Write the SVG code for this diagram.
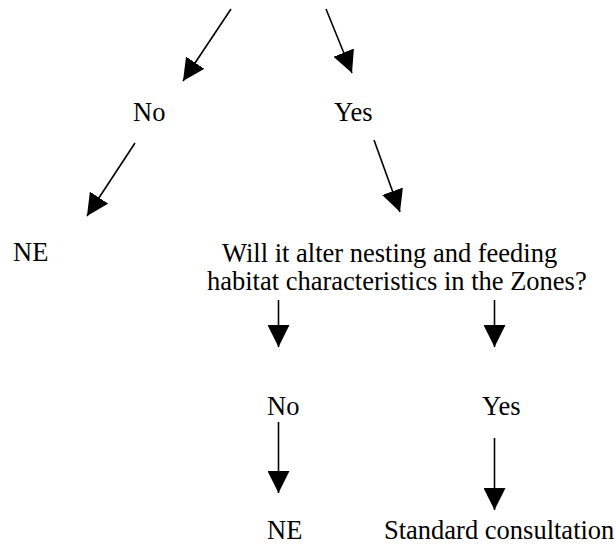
<svg xmlns="http://www.w3.org/2000/svg" width="616" height="544" viewBox="0 0 616 544">
<defs>
<marker id="ah" markerUnits="userSpaceOnUse" markerWidth="22" markerHeight="22" viewBox="0 0 21 21" refX="21" refY="10.5" orient="auto">
<path d="M0,0 L21,10.5 L0,21 Z" fill="#000"/>
</marker>
<style>
text{font-family:"Liberation Serif","Times New Roman",serif;font-size:26.5px;fill:#000}
.c line{stroke:#000;stroke-width:1.6;marker-end:url(#ah)}
</style>
</defs>
<rect width="616" height="544" fill="#fff"/>
<g class="c" id="connectors">
<line x1="231" y1="9" x2="183" y2="81"/>
<line x1="326" y1="9" x2="352" y2="73"/>
<line x1="135" y1="143" x2="87" y2="216"/>
<line x1="374" y1="140" x2="400" y2="212"/>
<line x1="278.5" y1="300" x2="278.5" y2="347"/>
<line x1="494.5" y1="300" x2="494.5" y2="347"/>
<line x1="278.5" y1="422" x2="278.5" y2="493"/>
<line x1="494.5" y1="438" x2="494.5" y2="510"/>
</g>
<g id="no1"><text x="133" y="121">No</text></g>
<g id="yes1"><text x="334" y="121">Yes</text></g>
<g id="ne1"><text x="13" y="261">NE</text></g>
<g id="question"><text x="222" y="262">Will it alter nesting and feeding</text><text x="207" y="290">habitat characteristics in the Zones?</text></g>
<g id="no2"><text x="267" y="415">No</text></g>
<g id="yes2"><text x="482" y="415">Yes</text></g>
<g id="ne2"><text x="267" y="539">NE</text></g>
<g id="standard"><text x="384" y="539">Standard consultation</text></g>
</svg>
